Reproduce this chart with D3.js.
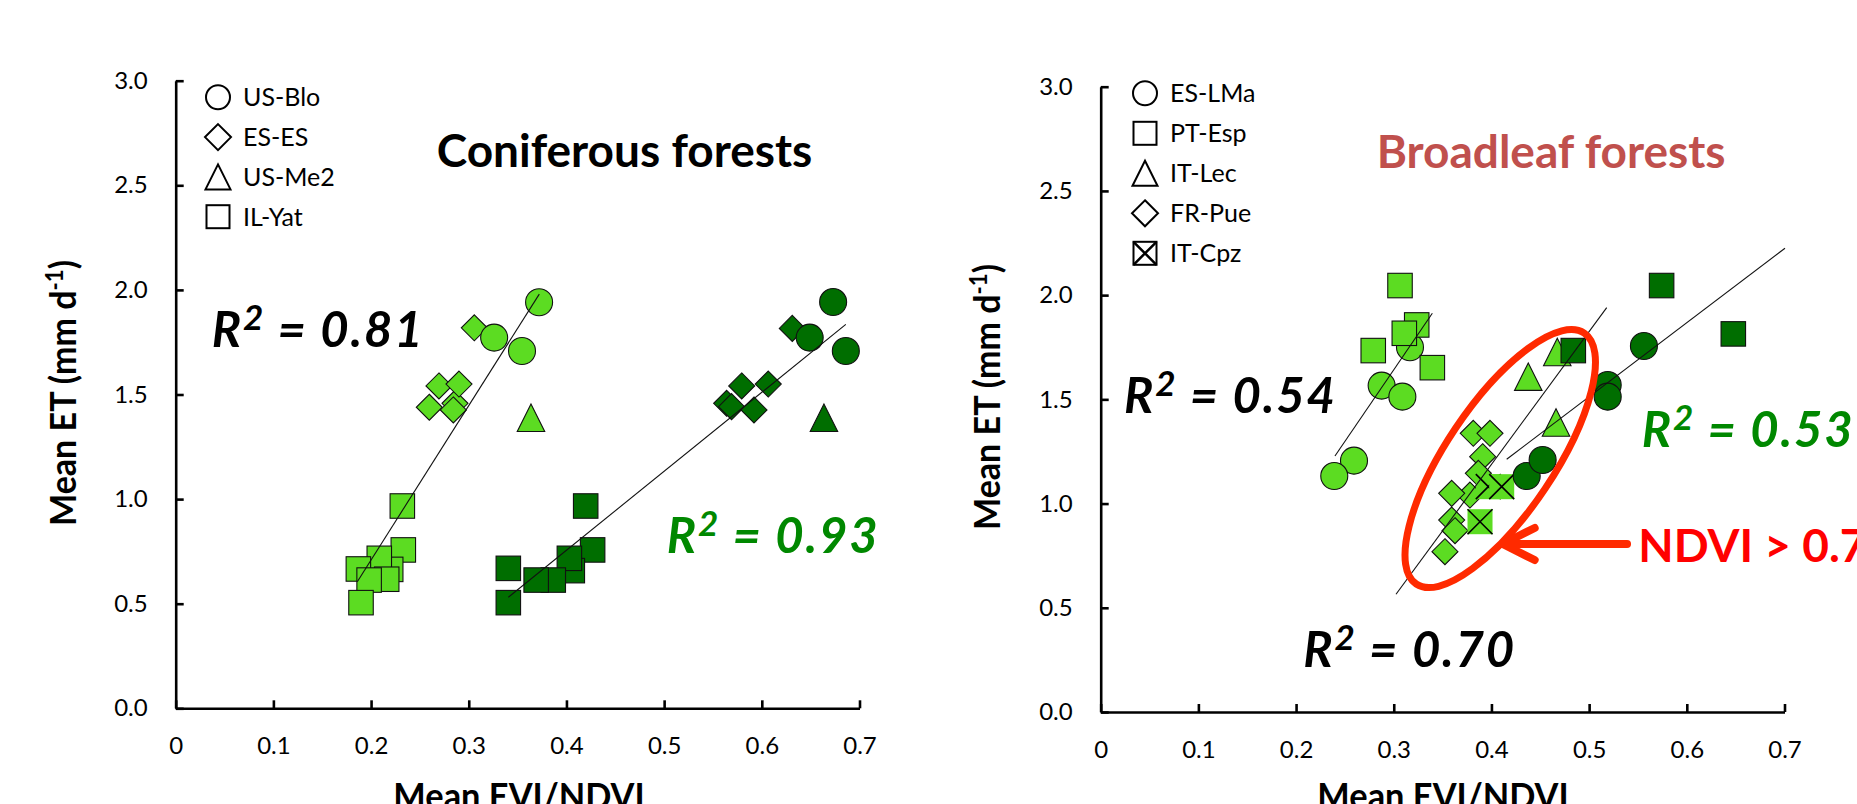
<!DOCTYPE html>
<html>
<head>
<meta charset="utf-8">
<script src="https://cdn.jsdelivr.net/npm/d3@7"></script>
<style>
  body { margin: 0; background: #fff; }
  svg { display: block; font-family: Lato, "Open Sans", sans-serif; }
</style>
</head>
<body>
<svg id="chart" width="1857" height="804"></svg>
<script>
// ---- data ----
const xTicks = [0, 0.1, 0.2, 0.3, 0.4, 0.5, 0.6, 0.7];
const yTicks = [0, 0.5, 1.0, 1.5, 2.0, 2.5, 3.0];

// coniferous panel, EVI (light green)
const usBloEVI = [[0.372, 1.941], [0.326, 1.772], [0.3545, 1.708]];
const esEsEVI = [[0.3057, 1.819], [0.2859, 1.458], [0.2695, 1.541], [0.290, 1.550], [0.2596, 1.439], [0.2842, 1.426]];
const usMe2EVI = [[0.3637, 1.389]];
const ilYatEVI = [[0.232, 0.967], [0.233, 0.757], [0.2201, 0.664], [0.2084, 0.717], [0.216, 0.617], [0.187, 0.666], [0.198, 0.613], [0.1897, 0.505]];
// coniferous panel, NDVI (dark green)
const usBloNDVI = [[0.673, 1.942], [0.649, 1.772], [0.686, 1.708]];
const esEsNDVI = [[0.6312, 1.816], [0.5794, 1.541], [0.6066, 1.550], [0.564, 1.458], [0.569, 1.442], [0.592, 1.426]];
const usMe2NDVI = [[0.6636, 1.389]];
const ilYatNDVI = [[0.4197, 0.967], [0.4268, 0.757], [0.406, 0.658], [0.403, 0.717], [0.3865, 0.613], [0.369, 0.613], [0.3405, 0.669], [0.3405, 0.505]];
const conifLines = [[[0.1859, 0.605], [0.3722, 1.980]], [[0.3405, 0.531], [0.686, 1.835]]];

// broadleaf panel, EVI (light green)
const esLMaEVI = [[0.3166, 1.750], [0.2876, 1.566], [0.3088, 1.513], [0.2593, 1.206], [0.2391, 1.132]];
const ptEspEVI = [[0.3064, 2.046], [0.3235, 1.857], [0.3108, 1.817], [0.279, 1.734], [0.3395, 1.652]];
const itLecEVI = [[0.4377, 1.609], [0.4674, 1.727], [0.4661, 1.389]];
const frPueEVI = [[0.3814, 1.337], [0.3985, 1.337], [0.391, 1.225], [0.3866, 1.145], [0.378, 1.041], [0.3593, 1.049], [0.3593, 0.921], [0.3627, 0.870], [0.3524, 0.769]];
const itCpzEVI = [[0.3968, 1.081], [0.4105, 1.081], [0.3883, 0.913]];
// broadleaf panel, NDVI (dark green)
const esLMaNDVI = [[0.4361, 1.132], [0.4524, 1.209], [0.5561, 1.756], [0.519, 1.569], [0.519, 1.513]];
const ptEspNDVI = [[0.4838, 1.734], [0.5742, 2.046], [0.6476, 1.814]];
const broadLines = [[[0.2398, 1.228], [0.3395, 1.913]], [[0.3023, 0.565], [0.518, 1.940]], [[0.4156, 1.2126], [0.7005, 2.225]]];

const conifLegend = [["circle", "US-Blo"], ["diamond", "ES-ES"], ["triangle", "US-Me2"], ["square", "IL-Yat"]];
const broadLegend = [["circle", "ES-LMa"], ["square", "PT-Esp"], ["triangle", "IT-Lec"], ["diamond", "FR-Pue"], ["xsquare", "IT-Cpz"]];

// NDVI > 0.7 ellipse and arrow (data units)
const ellipseCenter = [0.409, 1.216];
const arrowFrom = [0.5388, 0.806], arrowTo = [0.4115, 0.806];

const light = "#5cdc22", dark = "#006e00", rGreen = "#008800";

const svg = d3.select("#chart");

function marker(g, shape, x, y, s, fill, stroke, sw) {
  const h = s / 2;
  if (shape === "circle") {
    g.append("circle").attr("cx", x).attr("cy", y).attr("r", h)
      .attr("fill", fill).attr("stroke", stroke).attr("stroke-width", sw);
  } else if (shape === "square") {
    g.append("rect").attr("x", x - h).attr("y", y - h).attr("width", s).attr("height", s)
      .attr("fill", fill).attr("stroke", stroke).attr("stroke-width", sw);
  } else if (shape === "diamond") {
    g.append("path").attr("d", `M${x},${y - h}L${x + h},${y}L${x},${y + h}L${x - h},${y}Z`)
      .attr("fill", fill).attr("stroke", stroke).attr("stroke-width", sw);
  } else if (shape === "triangle") {
    g.append("path").attr("d", `M${x},${y - h}L${x + h},${y + h}L${x - h},${y + h}Z`)
      .attr("fill", fill).attr("stroke", stroke).attr("stroke-width", sw);
  } else if (shape === "xsquare") {
    g.append("rect").attr("x", x - h).attr("y", y - h).attr("width", s).attr("height", s)
      .attr("fill", fill).attr("stroke", fill === "none" ? stroke : "none").attr("stroke-width", sw);
    g.append("path").attr("d", `M${x - h},${y - h}L${x + h},${y + h}M${x + h},${y - h}L${x - h},${y + h}`)
      .attr("stroke", "#000").attr("stroke-width", sw + 0.5);
  }
}

const markSize = { circle: 27, square: 24.5, diamond: 26, triangle: 27.5, xsquare: 25 };
const legSize = { circle: 24, square: 23, diamond: 26, triangle: 25, xsquare: 23 };

function r2(x, y, val, color) {
  const t = svg.append("text").attr("x", x).attr("y", y).attr("fill", color)
    .style("font-size", "49px").style("font-weight", "bold").style("font-style", "italic")
    .style("letter-spacing", "1.8px");
  t.append("tspan").text("R");
  t.append("tspan").attr("dy", -17).style("font-size", "35px").text("2");
  t.append("tspan").attr("dy", 17).text(" = " + val);
}

function panel(cfg) {
  const x = d3.scaleLinear().domain([0, 0.7]).range(cfg.xr);
  const y = d3.scaleLinear().domain([0, 3]).range(cfg.yr);
  const g = svg.append("g");

  // axes
  const ax = g.append("g").attr("transform", `translate(0,${cfg.yr[0]})`)
    .call(d3.axisBottom(x).tickValues(xTicks).tickSize(-8).tickSizeOuter(0).tickPadding(29)
      .tickFormat(d => d === 0 ? "0" : d3.format(".1f")(d)));
  const ay = g.append("g").attr("transform", `translate(${cfg.xr[0]},0)`)
    .call(d3.axisLeft(y).tickValues(yTicks).tickSize(-8).tickSizeOuter(0).tickPadding(28)
      .tickFormat(d3.format(".1f")));
  [ax, ay].forEach(a => {
    a.attr("font-family", null).attr("font-size", null);
    a.selectAll("path, line").attr("stroke", "#000").attr("stroke-width", 2.6);
    a.selectAll("text").attr("fill", "#000").style("font-size", "24px");
  });

  // markers
  const mg = g.append("g");
  cfg.series.forEach(s => {
    s.pts.forEach(p => marker(mg, s.shape, x(p[0]), y(p[1]), markSize[s.shape], s.color, "#111", 1.1));
  });

  // trendlines
  g.append("g").selectAll("line").data(cfg.lines).enter().append("line")
    .attr("x1", d => x(d[0][0])).attr("y1", d => y(d[0][1]))
    .attr("x2", d => x(d[1][0])).attr("y2", d => y(d[1][1]))
    .attr("stroke", "#111").attr("stroke-width", 1.1);

  // legend
  const lg = g.append("g");
  cfg.legend.forEach((l, i) => {
    const cy = cfg.legY + i * cfg.legStep;
    marker(lg, l[0], cfg.legX, cy, legSize[l[0]], "none", "#000", 2);
    lg.append("text").attr("x", cfg.legX + 25).attr("y", cy + 9).style("font-size", "25px").text(l[1]);
  });

  // axis titles
  const yl = g.append("text").attr("transform", `translate(${cfg.yLabX},${cfg.yLabY}) rotate(-90) scale(0.92,1)`)
    .attr("text-anchor", "middle").style("font-size", "37px").style("font-weight", "bold");
  yl.append("tspan").text("Mean ET (mm d");
  yl.append("tspan").attr("dy", -13).style("font-size", "24px").text("-1");
  yl.append("tspan").attr("dy", 13).text(")");
  g.append("text").attr("transform", `translate(${cfg.xLabX},809) scale(0.93,1)`)
    .attr("text-anchor", "middle").style("font-size", "37px").style("font-weight", "bold").text("Mean EVI/NDVI");

  // panel title
  g.append("text").attr("x", cfg.titleX).attr("y", cfg.titleY).attr("fill", cfg.titleColor)
    .style("font-size", "46px").style("font-weight", "bold").text(cfg.title);
  return { x, y };
}

panel({
  xr: [175.7, 859.5], yr: [708.3, 80.7],
  series: [
    { shape: "diamond", color: light, pts: esEsEVI },
    { shape: "circle", color: light, pts: usBloEVI },
    { shape: "triangle", color: light, pts: usMe2EVI },
    { shape: "square", color: light, pts: ilYatEVI },
    { shape: "diamond", color: dark, pts: esEsNDVI },
    { shape: "circle", color: dark, pts: usBloNDVI },
    { shape: "triangle", color: dark, pts: usMe2NDVI },
    { shape: "square", color: dark, pts: ilYatNDVI }
  ],
  lines: conifLines,
  legend: conifLegend, legX: 218, legY: 97.3, legStep: 39.8,
  yLabX: 75.5, yLabY: 393, xLabX: 519,
  title: "Coniferous forests", titleX: 436.7, titleY: 166.7, titleColor: "#000"
});

const right = panel({
  xr: [1100.7, 1784.5], yr: [712, 86.7],
  series: [
    { shape: "circle", color: light, pts: esLMaEVI },
    { shape: "square", color: light, pts: ptEspEVI },
    { shape: "triangle", color: light, pts: itLecEVI },
    { shape: "diamond", color: light, pts: frPueEVI },
    { shape: "xsquare", color: light, pts: itCpzEVI },
    { shape: "circle", color: dark, pts: esLMaNDVI },
    { shape: "square", color: dark, pts: ptEspNDVI }
  ],
  lines: broadLines,
  legend: broadLegend, legX: 1145, legY: 93.3, legStep: 40,
  yLabX: 1000, yLabY: 397, xLabX: 1443,
  title: "Broadleaf forests", titleX: 1376.7, titleY: 168.3, titleColor: "#c0504d"
});

// R² labels
r2(211.7, 346.7, "0.81", "#000");
r2(666.7, 553.3, "0.93", rGreen);
r2(1124, 413.3, "0.54", "#000");
r2(1303.3, 666.7, "0.70", "#000");
r2(1641.7, 446.7, "0.53", rGreen);

// NDVI > 0.7 highlight
const ex = right.x(ellipseCenter[0]), ey = right.y(ellipseCenter[1]);
svg.append("ellipse").attr("cx", 0).attr("cy", 0).attr("rx", 151).attr("ry", 54)
  .attr("transform", `translate(${ex},${ey}) rotate(-56.2)`)
  .attr("fill", "none").attr("stroke", "#ff2a00").attr("stroke-width", 7);
const ax0 = right.x(arrowFrom[0]), ax1 = right.x(arrowTo[0]), ay0 = right.y(arrowFrom[1]);
svg.append("path")
  .attr("d", `M${ax0},${ay0}L${ax1},${ay0}M${ax1 + 32},${ay0 - 16}L${ax1},${ay0}L${ax1 + 32},${ay0 + 16}`)
  .attr("fill", "none").attr("stroke", "#ff2a00").attr("stroke-width", 8)
  .attr("stroke-linecap", "round").attr("stroke-linejoin", "round");
svg.append("text").attr("x", 1638.3).attr("y", 561.7).attr("fill", "#ff0000")
  .style("font-size", "46px").style("font-weight", "bold").text("NDVI > 0.7");
</script>
</body>
</html>
